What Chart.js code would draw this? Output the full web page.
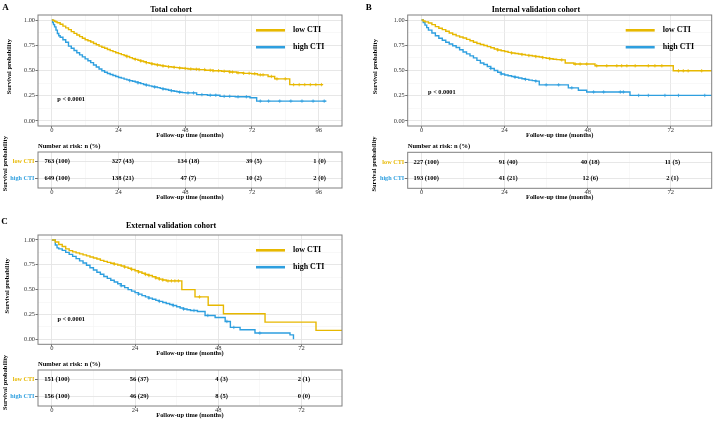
<!DOCTYPE html>
<html><head><meta charset="utf-8">
<script src="https://cdn.jsdelivr.net/npm/chart.js@4.4.1/dist/chart.umd.min.js"></script>
<style>
html,body{margin:0;padding:0;background:#fff;}
body{width:713px;height:421px;position:relative;overflow:hidden;}
canvas{position:absolute;}
</style></head>
<body>
<script>
// ---------------- DATA ----------------
const groupLabels = ['low CTI', 'high CTI'];
const panelTitles = ['Total cohort', 'Internal validation cohort', 'External validation cohort'];
const panelLetters = ['A', 'B', 'C'];
const pValueText = 'p < 0.0001';
const xAxisTitle = 'Follow-up time (months)';
const yAxisTitle = 'Survival probability';
const riskTitle = 'Number at risk: n (%)';

const xTicksA = [0, 24, 48, 72, 96];
const xTickLabelsA = ['0', '24', '48', '72', '96'];
const xMinorA = [12, 36, 60, 84];
const xTicksBC = [0, 24, 48, 72];
const xTickLabelsBC = ['0', '24', '48', '72'];
const xMinorBC = [12, 36, 60];
const survTicks = [0, 0.25, 0.5, 0.75, 1];
const survTickLabels = ['0.00', '0.25', '0.50', '0.75', '1.00'];
const survMinor = [0.125, 0.375, 0.625, 0.875];

// Panel A - Total cohort
const lowTimeA = [0,0.5,1,1.5,2,3,4,5,6,7,8,9,10,11,12,13,14,15,16,17,18,19,20,21,22,23,24,25,26,27,28,29,30,31,32,33,34,35,36,37,38,39,40,41,42,43,44,45,46,47,48,49,51,53,55.1,58,61.1,64,66.5,69,71.9,74,77.8,80.2,85.6,97.6];
const lowSurvA = [1,0.995,0.988,0.98,0.973,0.958,0.94,0.922,0.905,0.885,0.868,0.852,0.836,0.82,0.805,0.795,0.782,0.768,0.755,0.742,0.73,0.72,0.708,0.697,0.687,0.676,0.667,0.657,0.648,0.638,0.628,0.618,0.61,0.602,0.594,0.586,0.578,0.572,0.565,0.56,0.554,0.549,0.545,0.541,0.537,0.534,0.531,0.528,0.525,0.522,0.52,0.515,0.512,0.509,0.502,0.498,0.492,0.485,0.478,0.472,0.468,0.457,0.441,0.417,0.36,0.36];
const highTimeA = [0,0.3,0.6,1,1.5,2,2.5,3,4,5,6,7,8,9,10,11,12,13,14,15,16,17,18,19,20,21,22,23,24,25,26,27,28,29,30,31,32,33,34,35,36,37,38,39,40,41,42,43,44,45,46,47,48,52.1,56,60.5,66,71.3,73.7,98.8];
const highSurvA = [1,0.975,0.955,0.932,0.9,0.866,0.845,0.83,0.805,0.78,0.742,0.72,0.698,0.676,0.655,0.635,0.615,0.596,0.578,0.555,0.535,0.515,0.497,0.482,0.47,0.46,0.45,0.44,0.431,0.424,0.415,0.407,0.4,0.393,0.386,0.378,0.37,0.362,0.355,0.348,0.342,0.336,0.33,0.323,0.317,0.311,0.305,0.3,0.295,0.29,0.285,0.281,0.278,0.261,0.255,0.244,0.24,0.23,0.197,0.197];
const lowCensorA = [27,30,32,34,36,38,40,42,44,46,48,50,52,53,55,57,58,60,62,64,65,67,69,71,73,75,76,79,81,84,87,89,91,93,95,97];
const highCensorA = [28,31,34,37,40,43,46,49,51,54,57,59,62,64,67,70,75,78,82,86,90,94,98];
const riskTimesA = [0, 24, 48, 72, 96];
const riskLowA = [763, 327, 134, 39, 1];
const riskLowPctA = [100, 43, 18, 5, 0];
const riskHighA = [649, 138, 47, 10, 2];
const riskHighPctA = [100, 21, 7, 2, 0];

// Panel B - Internal validation cohort
const lowTimeB = [0,0.5,1,2,3,4,5,6,7,8,9,10,11,12,13,14,15,16,17,18,19,20,21,22,23,24,25,26,27,28,29,30,31,32,33,34,35,36,37,38,39,40,41.5,44,50.1,72.7,85];
const lowSurvB = [1,0.991,0.982,0.97,0.955,0.935,0.918,0.905,0.889,0.872,0.857,0.843,0.832,0.822,0.808,0.795,0.78,0.768,0.757,0.748,0.737,0.725,0.713,0.703,0.695,0.688,0.68,0.674,0.668,0.663,0.658,0.652,0.648,0.643,0.638,0.634,0.628,0.622,0.617,0.612,0.608,0.605,0.575,0.564,0.547,0.497,0.497];
const highTimeB = [0,0.5,1,1.5,2,3,4,5,6,7,8,9,10,11,12,13,14,15,16,17,18,19,20,21,22,23,24,25,26,27,28,29,30,31,32,33,34,42.4,45.3,47.7,60.2,85];
const highSurvB = [1,0.975,0.95,0.925,0.9,0.872,0.845,0.82,0.8,0.78,0.762,0.745,0.728,0.705,0.684,0.665,0.645,0.625,0.6,0.575,0.56,0.54,0.52,0.5,0.482,0.466,0.455,0.448,0.44,0.433,0.425,0.418,0.412,0.405,0.4,0.395,0.358,0.328,0.304,0.287,0.253,0.253];
const lowCensorB = [22,26,29,31,33,35,37,40.5,44.4,45.8,47.7,50.6,53.5,56.4,57.8,59.3,61.7,65.5,67.4,69.4,74.2,75.6,77,80.9];
const highCensorB = [20,23,27,30,33,36,39.6,43.4,49.7,52.6,57.4,58.3,62.7,65.5,70.3,74.2,81.8];
const riskTimesB = [0, 24, 48, 72];
const riskLowB = [227, 91, 40, 11];
const riskLowPctB = [100, 40, 18, 5];
const riskHighB = [193, 41, 12, 2];
const riskHighPctB = [100, 21, 6, 1];

// Panel C - External validation cohort
const lowTimeC = [0,1,2,3,4,5,6,7,8,9,10,11,12,13,14,15,16,17,18,19,20,21,22,23,24,25,26,27,28,29,30,31,32,33,37.5,41.3,45.1,49.5,61.5,76.2,85];
const lowSurvC = [1,0.98,0.955,0.935,0.91,0.893,0.88,0.87,0.86,0.85,0.84,0.828,0.818,0.808,0.795,0.785,0.775,0.765,0.757,0.748,0.738,0.727,0.715,0.703,0.69,0.678,0.665,0.653,0.642,0.63,0.618,0.606,0.597,0.588,0.5,0.427,0.343,0.257,0.173,0.09,0.09];
const highTimeC = [0,1,1.5,2,3,4,5,6,7,8,9,10,11,12,13,14,15,16,17,18,19,20,21,22,23,24,25,26,27,28,29,30,31,32,33,34,35,36,37,38,39,40,42,44.2,47.1,50,51.5,54.3,58.6,68.7,69.7];
const highSurvC = [1,0.95,0.92,0.91,0.895,0.875,0.855,0.835,0.812,0.79,0.768,0.745,0.72,0.698,0.675,0.655,0.633,0.613,0.595,0.577,0.56,0.54,0.52,0.5,0.485,0.47,0.455,0.44,0.427,0.415,0.403,0.392,0.382,0.37,0.36,0.35,0.34,0.328,0.316,0.305,0.297,0.29,0.28,0.24,0.22,0.18,0.12,0.097,0.063,0.045,0];
const lowCensorC = [18,21,23,25,27,28,30,31,32,33.5,34.5,35.5,36.5,42.6];
const highCensorC = [20,25,28,31,35,38,41,45,50.5,52.5,60];
const riskTimesC = [0, 24, 48, 72];
const riskLowC = [151, 56, 4, 2];
const riskLowPctC = [100, 37, 3, 1];
const riskHighC = [156, 46, 8, 0];
const riskHighPctC = [100, 29, 5, 0];

// ---------------- STYLE ----------------
const SERIF = '"Liberation Serif", "Times New Roman", serif';
const LOW_COLOR = '#E7B800';
const HIGH_COLOR = '#2E9FDF';
const GRID_MAJOR = '#E4E4E4';
const GRID_MINOR = '#F1F1F1';
const BORDER = '#808080';
const TICK_TEXT = '#333333';

function stepValue(times, surv, t) {
  let v = surv[0];
  for (let i = 0; i < times.length; i++) { if (times[i] <= t) v = surv[i]; else break; }
  return v;
}
function makeCanvas(left, top, w, h) {
  const c = document.createElement('canvas');
  c.width = w; c.height = h;
  c.style.left = left + 'px'; c.style.top = top + 'px';
  c.style.width = w + 'px'; c.style.height = h + 'px';
  document.body.appendChild(c);
  return c;
}
function gridOpts(majors, tickLen) {
  const isMajor = ctx => ctx.tick && majors.includes(ctx.tick.value);
  return {
    color: ctx => isMajor(ctx) ? GRID_MAJOR : GRID_MINOR,
    lineWidth: ctx => isMajor(ctx) ? 0.9 : 0.5,
    tickLength: tickLen,
    tickColor: ctx => isMajor(ctx) ? '#333' : 'rgba(0,0,0,0)',
    tickWidth: 0.7,
    drawTicks: true
  };
}
function xScaleOpts(p, axisH) {
  const all = p.xTicks.concat(p.xMinor).sort((a, b) => a - b);
  const lh = 6.4;
  return {
    type: 'linear', min: p.xMin, max: p.xMax,
    afterBuildTicks: ax => { ax.ticks = all.map(v => ({ value: v })); },
    afterFit: ax => { ax.height = axisH; },
    ticks: {
      autoSkip: false, maxRotation: 0, minRotation: 0, padding: -1, color: TICK_TEXT,
      font: { family: SERIF, size: 6.5, lineHeight: 1 },
      callback: v => { const i = p.xTicks.indexOf(v); return i >= 0 ? p.xTickLabels[i] : ''; }
    },
    grid: gridOpts(p.xTicks, 2),
    border: { display: false },
    title: { display: true, text: xAxisTitle, color: '#000',
      font: { family: SERIF, size: 6.4, weight: 'bold', lineHeight: 1 },
      padding: { top: 0, bottom: Math.max(0, axisH - 9.2 - lh / 2) } }
  };
}

function kmDecor(p) {
  return {
    id: 'kmDecor',
    afterDatasetsDraw(chart) {
      const a = chart.chartArea, ctx = chart.ctx;
      ctx.save();
      ctx.strokeStyle = BORDER; ctx.lineWidth = 1;
      ctx.strokeRect(a.left, a.top, a.right - a.left, a.bottom - a.top);
      ctx.restore();
    },
    afterDraw(chart) {
      const ctx = chart.ctx, a = chart.chartArea, xs = chart.scales.x, ys = chart.scales.y;
      ctx.save();
      ctx.textBaseline = 'middle';
      // legend
      const legY = [15.3, 32.2];
      chart.data.datasets.filter(d => d.isCurve).forEach((d, i) => {
        const y = a.top + legY[i];
        ctx.strokeStyle = d.borderColor; ctx.lineWidth = 2.6; ctx.lineCap = 'butt';
        ctx.beginPath(); ctx.moveTo(a.left + 218, y); ctx.lineTo(a.left + 247, y); ctx.stroke();
        ctx.fillStyle = '#000'; ctx.textAlign = 'left';
        ctx.font = `bold 8px ${SERIF}`;
        ctx.fillText(d.label, a.left + 255, y);
      });
      // p value
      ctx.fillStyle = '#000'; ctx.textAlign = 'left';
      ctx.font = `bold 6.3px ${SERIF}`;
      ctx.fillText(pValueText, xs.getPixelForValue(p.pX), ys.getPixelForValue(p.pY));
      // panel letter
      ctx.textAlign = 'center';
      ctx.font = `bold 9px ${SERIF}`;
      ctx.fillText(p.letter, p.letterX - p.left, p.letterY - p.km.top);
      // rotated y title
      ctx.translate(p.km.yTitleX - p.left, (a.top + a.bottom) / 2 + p.km.yTitleDy);
      ctx.rotate(-Math.PI / 2);
      ctx.font = `bold 6.4px ${SERIF}`;
      ctx.fillText(yAxisTitle, 0, 0);
      ctx.restore();
    }
  };
}

function kmChart(p) {
  const k = p.km;
  const c = makeCanvas(p.left, k.top, p.w, k.h);
  const datasets = [];
  p.curves.forEach(cv => {
    datasets.push({ type: 'line', label: cv.label, isCurve: true,
      data: cv.times.map((t, i) => ({ x: t, y: cv.surv[i] })),
      borderColor: cv.color, borderWidth: 1.4, pointRadius: 0, stepped: true, fill: false, tension: 0 });
  });
  p.curves.forEach(cv => {
    datasets.push({ type: 'scatter', label: cv.label + ' censored', isCurve: false,
      data: cv.censor.map(t => ({ x: t, y: stepValue(cv.times, cv.surv, t) })),
      pointStyle: 'cross', pointRadius: 1.7, pointBorderWidth: 0.8, borderColor: cv.color,
      backgroundColor: cv.color, showLine: false });
  });
  const titleLH = 8;
  const allY = survTicks.concat(survMinor).sort((a, b) => a - b);
  new Chart(c, {
    type: 'line',
    data: { datasets },
    options: {
      responsive: false, animation: false, devicePixelRatio: 1,
      layout: { padding: { left: 0, right: p.left + p.w - p.r, top: 0, bottom: 0 }, autoPadding: false },
      plugins: {
        legend: { display: false }, tooltip: { enabled: false },
        title: { display: true, text: p.title, color: '#000',
          font: { family: SERIF, size: 8, weight: 'bold', lineHeight: 1 },
          padding: { top: k.titleY - k.top - titleLH / 2, bottom: k.areaTop - k.titleY - titleLH / 2 } }
      },
      scales: {
        x: xScaleOpts(p, k.top + k.h - k.areaBottom),
        y: {
          type: 'linear', min: -0.05, max: 1.05,
          afterBuildTicks: ax => { ax.ticks = allY.map(v => ({ value: v })); },
          afterFit: ax => { ax.width = p.l - p.left; },
          ticks: { autoSkip: false, padding: 0.5, color: TICK_TEXT,
            font: { family: SERIF, size: 6.3, lineHeight: 1 },
            callback: v => { const i = survTicks.indexOf(v); return i >= 0 ? survTickLabels[i] : ''; } },
          grid: gridOpts(survTicks, 2.5),
          border: { display: false },
          title: { display: false }
        }
      }
    },
    plugins: [kmDecor(p)]
  });
}

function riskDecor(p) {
  return {
    id: 'riskDecor',
    afterDatasetsDraw(chart) {
      const a = chart.chartArea, ctx = chart.ctx;
      ctx.save();
      ctx.strokeStyle = BORDER; ctx.lineWidth = 1;
      ctx.strokeRect(a.left, a.top, a.right - a.left, a.bottom - a.top);
      ctx.fillStyle = '#000'; ctx.textBaseline = 'middle'; ctx.textAlign = 'center';
      ctx.font = `bold 6.5px ${SERIF}`;
      chart.data.datasets.forEach((d, di) => {
        const meta = chart.getDatasetMeta(di);
        meta.data.forEach((el, j) => ctx.fillText(d.texts[j], el.x, el.y));
      });
      ctx.restore();
    },
    afterDraw(chart) {
      const a = chart.chartArea, ctx = chart.ctx;
      ctx.save();
      ctx.fillStyle = '#000'; ctx.textBaseline = 'middle'; ctx.textAlign = 'left';
      ctx.font = `bold 6.5px ${SERIF}`;
      ctx.fillText(riskTitle, a.left, a.top - 6);
      ctx.translate(p.risk.yTitleX - p.left, (a.top + a.bottom) / 2 + p.risk.yTitleDy);
      ctx.rotate(-Math.PI / 2);
      ctx.textAlign = 'center';
      ctx.font = `bold 6.4px ${SERIF}`;
      ctx.fillText(yAxisTitle, 0, 0);
      ctx.restore();
    }
  };
}

function riskChart(p) {
  const r = p.risk;
  const c = makeCanvas(p.left, r.top, p.w, r.h);
  const rowColors = [LOW_COLOR, HIGH_COLOR];
  const datasets = p.riskRows.map((row, ri) => ({
    type: 'scatter', label: groupLabels[ri],
    data: p.riskTimes.map(t => ({ x: t, y: ri + 1 })),
    texts: row.n.map((n, j) => `${n} (${row.pct[j]})`),
    pointRadius: 0, xAxisID: 'xt', yAxisID: 'y'
  }));
  new Chart(c, {
    type: 'scatter',
    data: { datasets },
    options: {
      responsive: false, animation: false, devicePixelRatio: 1,
      layout: { padding: { left: 0, right: p.left + p.w - p.r, top: r.areaTop - r.top, bottom: 0 }, autoPadding: false },
      plugins: { legend: { display: false }, tooltip: { enabled: false } },
      scales: {
        x: xScaleOpts(p, r.top + r.h - r.areaBottom),
        xt: { type: 'linear', display: false, min: p.xtMin, max: p.xtMax },
        y: {
          type: 'linear', reverse: true, min: 0.4, max: 2.6,
          afterBuildTicks: ax => { ax.ticks = [1, 2].map(v => ({ value: v })); },
          afterFit: ax => { ax.width = p.l - p.left; },
          ticks: { autoSkip: false, padding: 0.5,
            color: ctx => rowColors[ctx.index],
            font: { family: SERIF, size: 6.2, weight: 'bold', lineHeight: 1 },
            callback: v => groupLabels[v - 1] },
          grid: { color: GRID_MAJOR, lineWidth: 0.9, tickLength: 3, tickColor: '#333', tickWidth: 0.7 },
          border: { display: false },
          title: { display: false }
        }
      }
    },
    plugins: [riskDecor(p)]
  });
}

// ---------------- PANELS ----------------
const panels = [
  { title: panelTitles[0], letter: panelLetters[0], letterX: 5.5, letterY: 7.8,
    left: 0, w: 345, l: 38, r: 342,
    xMin: -4.97, xMax: 104.4, xtMin: -7.0, xtMax: 104.2,
    xTicks: xTicksA, xTickLabels: xTickLabelsA, xMinor: xMinorA,
    pX: 2.0, pY: 0.21,
    km: { top: 0, h: 141, areaTop: 15, areaBottom: 126, titleY: 10.3, yTitleX: 9.5, yTitleDy: -3.8 },
    risk: { top: 127, h: 76, areaTop: 152, areaBottom: 188, yTitleX: 5.8, yTitleDy: -6.3 },
    curves: [
      { label: groupLabels[0], color: LOW_COLOR, times: lowTimeA, surv: lowSurvA, censor: lowCensorA },
      { label: groupLabels[1], color: HIGH_COLOR, times: highTimeA, surv: highSurvA, censor: highCensorA }
    ],
    riskTimes: riskTimesA,
    riskRows: [{ n: riskLowA, pct: riskLowPctA }, { n: riskHighA, pct: riskHighPctA }]
  },
  { title: panelTitles[1], letter: panelLetters[1], letterX: 368.8, letterY: 7.5,
    left: 360, w: 353, l: 407.7, r: 711.7,
    xMin: -3.99, xMax: 83.8, xtMin: -5.4, xtMax: 83.5,
    xTicks: xTicksBC, xTickLabels: xTickLabelsBC, xMinor: xMinorBC,
    pX: 1.9, pY: 0.285,
    km: { top: 0, h: 141, areaTop: 15, areaBottom: 126, titleY: 10.3, yTitleX: 375, yTitleDy: -3.8 },
    risk: { top: 127, h: 76, areaTop: 152.3, areaBottom: 188.3, yTitleX: 374, yTitleDy: -6.3 },
    curves: [
      { label: groupLabels[0], color: LOW_COLOR, times: lowTimeB, surv: lowSurvB, censor: lowCensorB },
      { label: groupLabels[1], color: HIGH_COLOR, times: highTimeB, surv: highSurvB, censor: highCensorB }
    ],
    riskTimes: riskTimesB,
    riskRows: [{ n: riskLowB, pct: riskLowPctB }, { n: riskHighB, pct: riskHighPctB }]
  },
  { title: panelTitles[2], letter: panelLetters[2], letterX: 4.5, letterY: 221.5,
    left: 0, w: 345, l: 38, r: 342,
    xMin: -3.99, xMax: 83.7, xtMin: -5.5, xtMax: 83.1,
    xTicks: xTicksBC, xTickLabels: xTickLabelsBC, xMinor: xMinorBC,
    pX: 1.6, pY: 0.2,
    km: { top: 215, h: 145, areaTop: 235, areaBottom: 344.3, titleY: 225.5, yTitleX: 7, yTitleDy: -3.8 },
    risk: { top: 345, h: 76, areaTop: 370, areaBottom: 406, yTitleX: 5, yTitleDy: -5.5 },
    curves: [
      { label: groupLabels[0], color: LOW_COLOR, times: lowTimeC, surv: lowSurvC, censor: lowCensorC },
      { label: groupLabels[1], color: HIGH_COLOR, times: highTimeC, surv: highSurvC, censor: highCensorC }
    ],
    riskTimes: riskTimesC,
    riskRows: [{ n: riskLowC, pct: riskLowPctC }, { n: riskHighC, pct: riskHighPctC }]
  }
];

panels.forEach(p => { riskChart(p); kmChart(p); });
</script>
</body></html>
